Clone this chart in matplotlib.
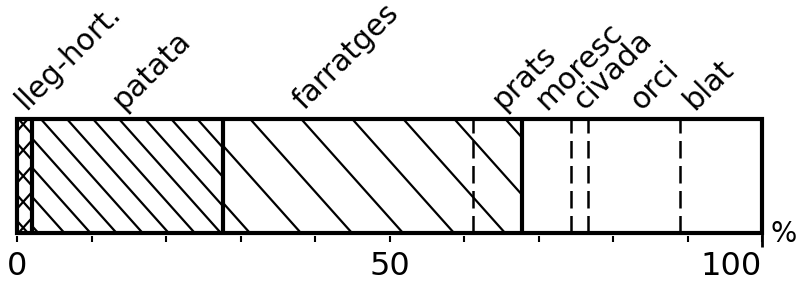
import numpy as np
import matplotlib

matplotlib.use("Agg")
import matplotlib.pyplot as plt
from matplotlib.patches import Rectangle

# share of cultivated land (%), left to right
crops = ["lleg-hort.", "patata", "farratges", "prats", "moresc", "civada", "orci", "blat"]
shares = [2.0, 25.6, 33.6, 6.6, 6.6, 2.2, 12.4, 11.0]
tick_labels = ["0", "50", "100"]

# drawing style per crop
hatches = ["x", "dense", "sparse", "sparse", "", "", "", ""]
dashed_after = [False, False, True, False, True, True, True]
label_x = [1.2, 14.2, 38.6, 65.3, 71.0, 76.2, 83.8, 90.9]

W_PX, H_PX = 805, 281
fig = plt.figure(figsize=(W_PX / 100, H_PX / 100), dpi=100)
# bar spans 0..100 -> px 17..762, y 0..1 -> px 233..119
ax = fig.add_axes([17 / W_PX, (H_PX - 236.4) / H_PX, 745 / W_PX, 117.4 / H_PX])
ax.set_xlim(0, 100)
ax.set_ylim(-0.03, 1.0)
for s in ax.spines.values():
    s.set_visible(False)

lefts = np.concatenate([[0], np.cumsum(shares)[:-1]])
bars = ax.barh(0.5, shares, left=lefts, height=1.0, color="white", edgecolor="none")

px_x = 745 / 100
px_y = 114.0
shift = px_y / 1.12 / px_x  # horizontal run of a hatch line over the bar height


def hatch_lines(patch, x0, x1, step, phase, both=False):
    k0 = np.floor((x0 - shift - phase) / step)
    for xt in phase + step * np.arange(k0, (x1 - phase) / step + 2):
        segs = [([xt, xt + shift], [1, 0])]
        if both:
            segs.append(([xt, xt + shift], [0, 1]))
        for xs, ys in segs:
            ln, = ax.plot(xs, ys, color="black", lw=1.6, solid_capstyle="butt", zorder=2)
            ln.set_clip_path(patch)


for bar, left, w, h in zip(bars, lefts, shares, hatches):
    if h == "x":
        hatch_lines(bar, left, left + w, 3.1, 0.2, both=True)
    elif h == "dense":
        hatch_lines(bar, left, left + w, 3.5, 3.2)
    elif h == "sparse":
        hatch_lines(bar, left, left + w, 6.85, 3.9)

# dividers between crops
for x, dashed in zip(np.cumsum(shares)[:-1], dashed_after):
    if dashed:
        ax.vlines(x, 0, 1, colors="black", lw=1.8, linestyles=(0, (7, 3)), zorder=3)
    else:
        ax.vlines(x, 0, 1, colors="black", lw=3.0, zorder=3)

ax.add_patch(Rectangle((0, 0), 100, 1, fill=False, lw=3.0, ec="black",
                       zorder=4, clip_on=False))
ax.vlines(100, -0.12, 0, colors="black", lw=2.0, clip_on=False)

for name, x in zip(crops, label_x):
    ax.text(x, 1.07, name, rotation=45, rotation_mode="anchor", ha="left",
            va="baseline", fontsize=21.5, clip_on=False)

ax.set_yticks([])
ax.set_xticks([0, 50, 100])
ax.set_xticklabels(tick_labels, fontsize=23)
ax.set_xticks(np.arange(0, 101, 10), minor=True)
ax.tick_params(axis="x", which="both", length=4.5, width=1.5, pad=6)
ax.get_xticklabels()[-1].set_horizontalalignment("right")
ax.text(101.2, -0.01, "%", ha="left", va="center", fontsize=20, clip_on=False)

plt.savefig("out.png", dpi=100)
plt.close()
